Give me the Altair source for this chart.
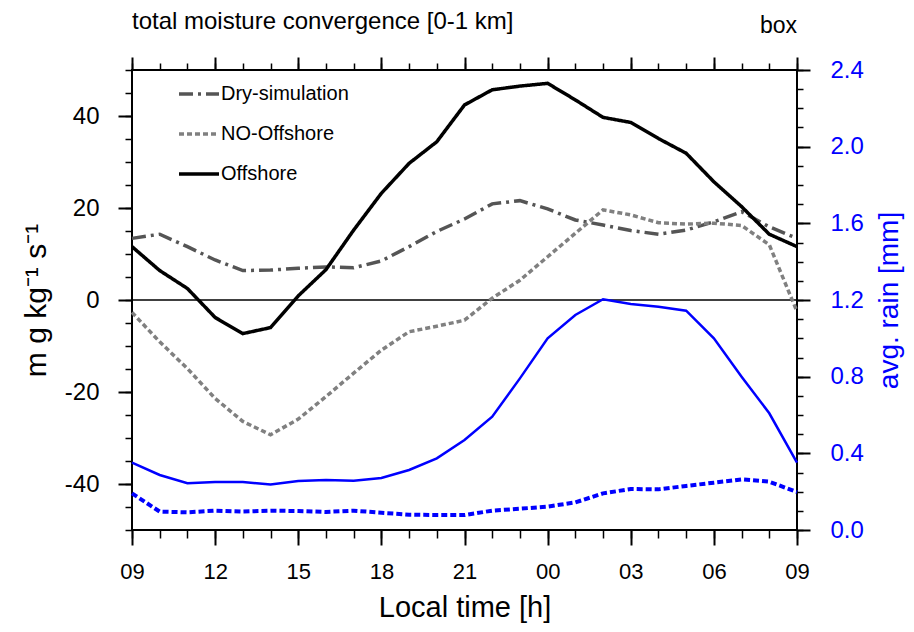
import altair as alt
import pandas as pd

# ---------------- data ----------------
hours = list(range(25))  # hours after 09 local time
x_tick_labels = ["09", "12", "15", "18", "21", "00", "03", "06", "09"]
series_names = ["Dry-simulation", "NO-Offshore", "Offshore"]

dry_sim = [13.4, 14.3, 11.6, 8.7, 6.4, 6.5, 6.9, 7.2, 7.0, 8.5, 11.6, 14.9, 17.6,
           20.9, 21.6, 19.8, 17.4, 16.3, 15.1, 14.3, 15.2, 17.0, 19.2, 15.9, 13.4]
no_offshore = [-2.7, -9.1, -14.9, -21.4, -26.4, -29.3, -25.9, -21.0, -15.9, -10.9, -6.9, -5.7, -4.4,
               0.4, 4.3, 9.4, 14.5, 19.6, 18.5, 16.8, 16.5, 16.7, 16.2, 12.0, -2.5]
offshore = [11.6, 6.4, 2.5, -3.8, -7.3, -6.0, 0.9, 6.6, 15.2, 23.2, 29.7, 34.4, 42.4,
            45.7, 46.5, 47.1, 43.5, 39.7, 38.6, 35.1, 31.9, 25.7, 20.3, 14.3, 11.6]
rain_offshore = [0.351, 0.287, 0.244, 0.250, 0.250, 0.238, 0.256, 0.261, 0.257, 0.271, 0.313, 0.374, 0.470,
                 0.591, 0.791, 1.000, 1.122, 1.204, 1.179, 1.165, 1.144, 1.000, 0.800, 0.609, 0.351]
rain_no_offshore = [0.191, 0.096, 0.092, 0.101, 0.096, 0.101, 0.099, 0.094, 0.101, 0.090, 0.080, 0.078, 0.078,
                    0.101, 0.111, 0.122, 0.144, 0.191, 0.214, 0.212, 0.230, 0.247, 0.264, 0.252, 0.198]

left_major = [-40, -20, 0, 20, 40]
left_minor = list(range(-50, 51, 5))
right_major = [0.0, 0.4, 0.8, 1.2, 1.6, 2.0, 2.4]
right_minor = [round(i * 0.1, 1) for i in range(25)]
x_major = list(range(0, 25, 3))
x_minor = hours

title_text = "total moisture convergence [0-1 km]"
corner_text = "box"

# ---------------- tables ----------------
rows = []
for name, vals in zip(series_names, [dry_sim, no_offshore, offshore]):
    for h, v in zip(hours, vals):
        rows.append({"hour": h, "value": v, "series": name})
df_gray = pd.DataFrame(rows)
df_rain = pd.DataFrame({"hour": hours, "rain_off": rain_offshore, "rain_nooff": rain_no_offshore})
df_zero = pd.DataFrame({"zero": [0]})
df_title = pd.DataFrame({"t": [title_text]})
df_box = pd.DataFrame({"t": [corner_text]})

W, H = 665, 460
FONT = "Liberation Sans"
BLUE = "#0000ff"

x_scale = alt.Scale(domain=[0, 24], nice=False, zero=False)
yl_scale = alt.Scale(domain=[-50, 50], nice=False, zero=False)
yr_scale = alt.Scale(domain=[0, 2.4], nice=False, zero=False)

label_expr = "[" + ",".join(f"'{t}'" for t in x_tick_labels) + "][round(datum.value/3)]"

common = dict(domain=False, grid=False, tickColor="black")

x_bottom_major = alt.Axis(orient="bottom", values=x_major, labelExpr=label_expr, tickSize=15, tickWidth=2,
                          labelPadding=16, labelFontSize=22, labelFont=FONT, labelColor="black",
                          labelFlush=False, labelOverlap=False,
                          title="Local time [h]", titleFontSize=29, titleFont=FONT, titleFontWeight="normal",
                          titleColor="black", titleX=W / 2, titleY=86, titleBaseline="alphabetic",
                          titleAlign="center", **common)
x_bottom_minor = alt.Axis(orient="bottom", values=x_minor, labels=False, tickSize=8, tickWidth=1.5,
                          title=None, **common)
x_top_major = alt.Axis(orient="top", values=x_major, labels=False, tickSize=13, tickWidth=2,
                       title=None, **common)
x_top_minor = alt.Axis(orient="top", values=x_minor, labels=False, tickSize=7, tickWidth=1.5,
                       title=None, **common)

y_left_major = alt.Axis(orient="left", values=left_major, labelExpr="'' + datum.value", tickSize=14,
                        tickWidth=2, labelPadding=19, labelFontSize=24, labelFont=FONT, labelColor="black",
                        labelFlush=False, labelOverlap=False,
                        title="m g kg⁻¹ s⁻¹", titleFontSize=30, titleFont=FONT, titleFontWeight="normal",
                        titleColor="black", titleAngle=270, titleX=-87, titleY=H / 2,
                        titleBaseline="alphabetic", titleAlign="center", **common)
y_left_minor = alt.Axis(orient="left", values=left_minor, labels=False, tickSize=7, tickWidth=1.5,
                        title=None, **common)
y_right_major = alt.Axis(orient="right", values=right_major, labelExpr="format(datum.value, '.1f')",
                         tickSize=13, tickWidth=2, labelPadding=20, labelFontSize=24, labelFont=FONT,
                         labelColor=BLUE, labelFlush=False, labelOverlap=False,
                         title="avg. rain [mm]", titleFontSize=28, titleFont=FONT, titleFontWeight="normal",
                         titleColor=BLUE, titleAngle=270, titleX=100, titleY=H / 2,
                         titleBaseline="alphabetic", titleAlign="center", **common)
y_right_minor = alt.Axis(orient="right", values=right_minor, labels=False, tickSize=6, tickWidth=1.5,
                         title=None, **common)

leg = alt.Legend(title=None, orient="none", legendX=45, legendY=2, symbolType="stroke", symbolSize=1600,
                 symbolStrokeWidth=3, labelFontSize=20, labelFont=FONT, labelColor="black", labelOffset=0,
                 rowPadding=8, padding=0)

gray = alt.Chart(df_gray).mark_line().encode(
    x=alt.X("hour:Q", scale=x_scale, axis=x_bottom_major),
    y=alt.Y("value:Q", scale=yl_scale, axis=y_left_major),
    color=alt.Color("series:N", scale=alt.Scale(domain=series_names, range=["#555555", "#808080", "#000000"]),
                    legend=leg),
    strokeDash=alt.StrokeDash("series:N", scale=alt.Scale(domain=series_names,
                                                          range=[[14, 5, 3, 5], [5, 3], [1, 0]]), legend=leg),
    strokeWidth=alt.StrokeWidth("series:N", scale=alt.Scale(domain=series_names, range=[3.5, 3.5, 2.5]),
                                legend=None),
)

minor_lb = alt.Chart(df_gray).mark_line(opacity=0).encode(
    x=alt.X("hour:Q", scale=x_scale, axis=x_bottom_minor),
    y=alt.Y("value:Q", scale=yl_scale, axis=y_left_minor),
)

zero = alt.Chart(df_zero).mark_rule(color="black", strokeWidth=1.3).encode(
    y=alt.Y("zero:Q", scale=yl_scale, axis=None),
)

rain_solid = alt.Chart(df_rain).mark_line(color=BLUE, strokeWidth=2.5).encode(
    x=alt.X("hour:Q", scale=x_scale, axis=x_top_major),
    y=alt.Y("rain_off:Q", scale=yr_scale, axis=y_right_major),
)

rain_dot = alt.Chart(df_rain).mark_line(color=BLUE, strokeWidth=4, strokeDash=[6, 3]).encode(
    x=alt.X("hour:Q", scale=x_scale, axis=x_top_minor),
    y=alt.Y("rain_nooff:Q", scale=yr_scale, axis=y_right_minor),
)

title = alt.Chart(df_title).mark_text(align="left", baseline="alphabetic", fontSize=24, font=FONT,
                                      color="black").encode(
    text="t:N", x=alt.value(0), y=alt.value(-41)
)

box = alt.Chart(df_box).mark_text(align="right", baseline="alphabetic", fontSize=23, font=FONT,
                                  color="black").encode(
    text="t:N", x=alt.value(W), y=alt.value(-37)
)

chart = alt.layer(zero, minor_lb, rain_dot, rain_solid, gray, title, box).resolve_scale(
    y="independent"
).resolve_axis(
    x="independent", y="independent"
).properties(
    width=W, height=H,
    padding={"left": 124, "top": 62, "right": 108, "bottom": 93},
    autosize=alt.AutoSizeParams(type="none"),
).configure(font=FONT).configure_view(stroke="black", strokeWidth=2)

chart.save("out.html", embed_options={"renderer": "svg", "actions": False})
